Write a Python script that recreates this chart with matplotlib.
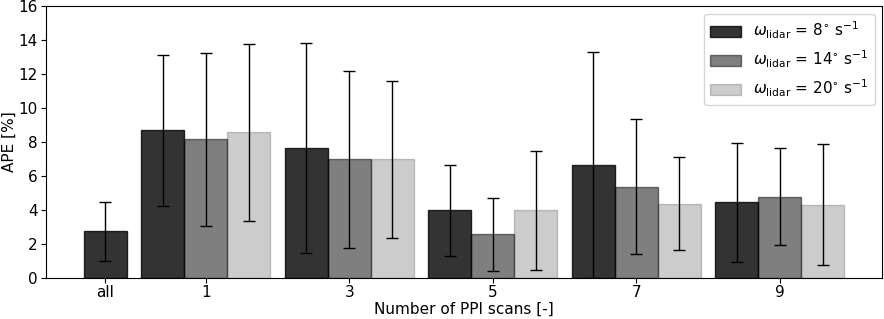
import numpy as np
import matplotlib
matplotlib.use('Agg')
import matplotlib.pyplot as plt

# APE values
groups = ['1', '3', '5', '7', '9']
ape_all = 2.75
err_all = 1.75
ape_8 = [8.69, 7.63, 3.98, 6.65, 4.45]
err_8 = [4.43, 6.17, 2.68, 6.62, 3.47]
ape_14 = [8.16, 6.98, 2.57, 5.39, 4.80]
err_14 = [5.08, 5.20, 2.12, 3.94, 2.83]
ape_20 = [8.57, 6.98, 3.98, 4.39, 4.33]
err_20 = [5.20, 4.62, 3.49, 2.71, 3.53]

labels = [r'$\omega_{\rm lidar}$ = 8$^{\circ}$ s$^{-1}$',
          r'$\omega_{\rm lidar}$ = 14$^{\circ}$ s$^{-1}$',
          r'$\omega_{\rm lidar}$ = 20$^{\circ}$ s$^{-1}$']
alphas = [0.8, 0.5, 0.2]

plt.rcParams['font.size'] = 11

fig, ax = plt.subplots(figsize=(8.84, 3.19), dpi=100)
fig.subplots_adjust(left=0.052, right=0.998, top=0.981, bottom=0.128)

width = 0.3
x = np.arange(1, len(groups) + 1)
x_all = 0.3

ebar_kw = dict(ecolor='k', capsize=4, elinewidth=1)

# single bar for all scans
ax.bar(x_all, ape_all, width, yerr=err_all, color='k', alpha=alphas[0],
       edgecolor='k', linewidth=1, error_kw=ebar_kw)

series = [(ape_8, err_8), (ape_14, err_14), (ape_20, err_20)]
for i, (vals, errs) in enumerate(series):
    ax.bar(x + (i - 1) * width, vals, width, yerr=errs, color='k',
           alpha=alphas[i], edgecolor='k', linewidth=1, label=labels[i],
           error_kw=ebar_kw)

ax.set_xticks([x_all] + list(x))
ax.set_xticklabels(['all'] + groups)
ax.tick_params(axis='x', pad=1.5)
ax.tick_params(axis='y', pad=2.5)
ax.set_ylim(0, 16)
ax.set_yticks(np.arange(0, 17, 2))
ax.set_xlabel('Number of PPI scans [-]', labelpad=1)
ax.set_ylabel('APE [%]', labelpad=1)
ax.legend(loc='upper right', fontsize=11)

plt.savefig('out.png', dpi=100)
